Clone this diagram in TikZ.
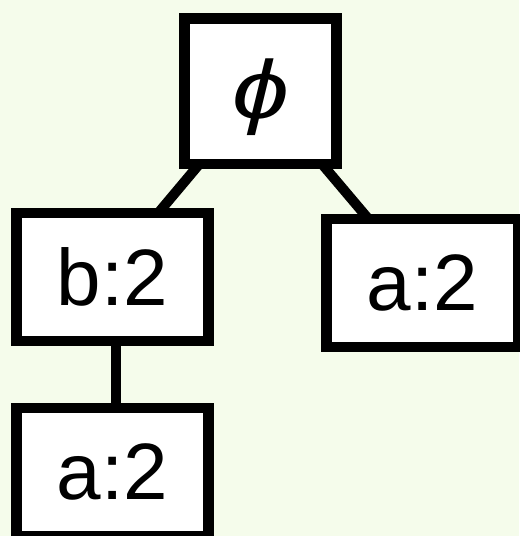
\documentclass[tikz,border=0pt]{standalone}
\usepackage{fontspec}
\usetikzlibrary{backgrounds}
\setmainfont{Liberation Sans}
\definecolor{bgc}{RGB}{245,252,235}
\tikzset{
  treebox/.style={draw=black, fill=white, line width=7.9pt, inner sep=0pt, outer sep=0pt,
    minimum width=144pt, minimum height=96pt, font=\fontsize{60pt}{60pt}\selectfont},
  link/.style={draw=black, line width=7.5pt}
}
\begin{document}
\begin{tikzpicture}[x=0.75pt, y=-0.75pt]
  \useasboundingbox (0,0) rectangle (519,536);
  % tree nodes
  \node[treebox, minimum width=114pt, minimum height=109pt] (root) at (260.5,91.3) {};
  \node[inner sep=0pt, font=\itshape\fontsize{60pt}{60pt}\selectfont] (rootlabel) at (260.5,97) {\scalebox{1.28}[1.03]{ϕ}};
  \node[treebox] (b) at (112.3,277.2) {b:2};
  \node[treebox] (ar) at (422.5,282.9) {a:2};
  \node[treebox] (ab) at (112.3,471.9) {a:2};
  % backdrop and connectors beneath the boxes
  \begin{scope}[on background layer]
    \fill[bgc] (0,0) rectangle (519,536);
    \path[link] (root.center) -- ([xshift=-6pt]b.center);
    \path[link] (root.center) -- (ar.center);
    \path[link] ([xshift=2.8pt]b.center) -- ([xshift=2.8pt]ab.center);
  \end{scope}
\end{tikzpicture}
\end{document}
